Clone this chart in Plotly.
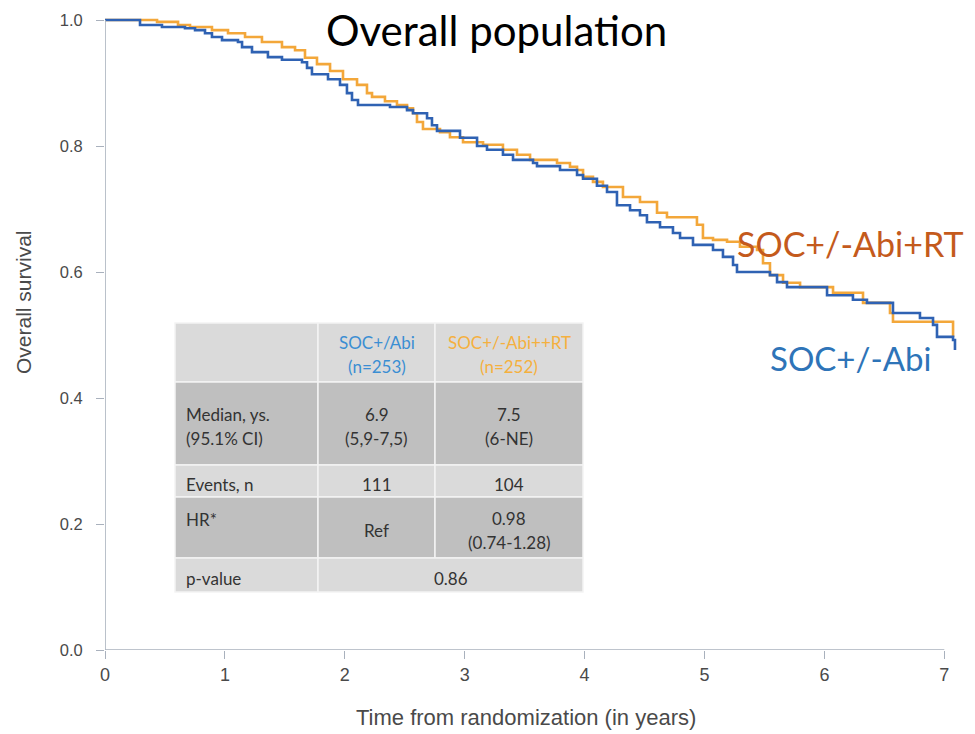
import plotly.graph_objects as go

# ---- Kaplan-Meier step data (time in years, survival probability) ----
abi_time = [0.000, 0.292, 0.475, 0.667, 0.751, 0.834, 0.892, 0.976, 1.109, 1.143, 1.226, 1.359, 1.476,
            1.643, 1.685, 1.726, 1.860, 1.960, 2.018, 2.060, 2.110, 2.377, 2.519, 2.569, 2.686, 2.727,
            2.769, 2.961, 3.103, 3.186, 3.319, 3.403, 3.570, 3.603, 3.795, 3.937, 3.987, 4.103, 4.187,
            4.270, 4.379, 4.462, 4.520, 4.629, 4.737, 4.796, 4.904, 5.071, 5.154, 5.238, 5.271, 5.546,
            5.605, 5.688, 6.022, 6.238, 6.355, 6.572, 6.797, 6.906, 6.939, 7.073, 7.089]
abi_surv = [1.000, 0.992, 0.989, 0.987, 0.984, 0.979, 0.973, 0.968, 0.965, 0.957, 0.949, 0.941, 0.937,
            0.933, 0.924, 0.914, 0.906, 0.897, 0.884, 0.873, 0.865, 0.862, 0.857, 0.852, 0.844, 0.833,
            0.824, 0.813, 0.800, 0.794, 0.786, 0.778, 0.773, 0.768, 0.762, 0.754, 0.748, 0.737, 0.727,
            0.706, 0.698, 0.690, 0.679, 0.671, 0.662, 0.654, 0.643, 0.635, 0.624, 0.611, 0.600, 0.595,
            0.584, 0.576, 0.563, 0.556, 0.551, 0.535, 0.527, 0.516, 0.497, 0.492, 0.476]

rt_time = [0.000, 0.434, 0.609, 0.709, 0.892, 1.026, 1.168, 1.309, 1.476, 1.585, 1.668, 1.768, 1.877,
           1.985, 2.102, 2.185, 2.227, 2.335, 2.435, 2.519, 2.569, 2.602, 2.652, 2.794, 2.877, 2.986,
           3.153, 3.319, 3.436, 3.545, 3.770, 3.878, 3.937, 3.987, 4.070, 4.153, 4.320, 4.462, 4.604,
           4.687, 4.937, 4.987, 5.071, 5.188, 5.296, 5.438, 5.488, 5.546, 5.655, 5.797, 6.072, 6.322,
           6.547, 6.572, 7.073]
rt_surv = [1.000, 0.997, 0.992, 0.989, 0.984, 0.979, 0.973, 0.965, 0.957, 0.952, 0.940, 0.930, 0.919,
           0.906, 0.897, 0.884, 0.878, 0.871, 0.865, 0.860, 0.852, 0.838, 0.827, 0.822, 0.814, 0.806,
           0.802, 0.794, 0.786, 0.778, 0.773, 0.767, 0.762, 0.751, 0.743, 0.735, 0.719, 0.711, 0.694,
           0.687, 0.675, 0.654, 0.651, 0.648, 0.640, 0.635, 0.614, 0.595, 0.583, 0.576, 0.567, 0.551,
           0.535, 0.521, 0.497]

x_ticks = [0, 1, 2, 3, 4, 5, 6, 7]
y_ticks = [0.0, 0.2, 0.4, 0.6, 0.8, 1.0]

# ---- summary table contents ----
table_header = ["", "SOC+/Abi<br>(n=253)", "SOC+/-Abi++RT<br>(n=252)"]
row_labels = ["Median, ys.<br>(95.1% CI)", "Events, n", "HR*", "p-value"]
abi_cells = ["6.9<br>(5,9-7,5)", "111", "Ref", "0.86"]
rt_cells = ["7.5<br>(6-NE)", "104", "0.98<br>(0.74-1.28)", None]

# ---- page geometry ----
W, H = 975, 734
L, R, T, B = 105, 16, 16, 84
PW, PH = W - L - R, H - T - B
PX_PER_YEAR = 119.9
PX_PER_UNIT = 630.0
X_MAX = PW / PX_PER_YEAR
Y_MAX = PH / PX_PER_UNIT

BLUE = "#2f62b3"
ORANGE = "#f3a73a"
AXIS = "#a9b1bd"
TXT = "#4a4a4a"
SANS = "Liberation Sans, Arial, sans-serif"
HUMANIST = "Lato, Carlito, sans-serif"


def px(x):
    return (x - L) / PW


def py(y):
    return (H - B - y) / PH


fig = go.Figure()
fig.add_trace(go.Scatter(x=rt_time, y=rt_surv, mode="lines", line=dict(color=ORANGE, width=2.6, shape="hv"),
                         name="SOC+/-Abi+RT", hoverinfo="skip"))
fig.add_trace(go.Scatter(x=abi_time, y=abi_surv, mode="lines", line=dict(color=BLUE, width=2.6, shape="hv"),
                         name="SOC+/-Abi", hoverinfo="skip"))

shapes = [
    dict(type="line", xref="x", yref="y", x0=0, x1=7, y0=0, y1=0, line=dict(color=AXIS, width=1.6)),
    dict(type="line", xref="x", yref="y", x0=0, x1=0, y0=0, y1=1, line=dict(color=AXIS, width=1.6)),
]
annotations = []

# ---- table drawn as cells ----
row_edges = [323, 382, 465, 497, 558, 592]
col_edges = [175, 318, 435, 583]
LIGHT, DARK = "#dadada", "#bfbfbf"
row_fill = [LIGHT, DARK, LIGHT, DARK, LIGHT]
cell_font = dict(family=HUMANIST, size=17, color="#333333")

for r in range(5):
    y0, y1 = row_edges[r], row_edges[r + 1]
    if r == 4:
        spans = [(col_edges[0], col_edges[1]), (col_edges[1], col_edges[3])]
    else:
        spans = [(col_edges[c], col_edges[c + 1]) for c in range(3)]
    for (x0, x1) in spans:
        shapes.append(dict(type="rect", xref="paper", yref="paper", x0=px(x0), x1=px(x1), y0=py(y1), y1=py(y0),
                           fillcolor=row_fill[r], line=dict(color="#f4f4f4", width=1.5), layer="above"))


def cell_text(text, xpix, ycen, color="#333333", anchor="center"):
    lines = text.split("<br>")
    gap = 24.5
    start = ycen - gap * (len(lines) - 1) / 2
    for i, ln in enumerate(lines):
        annotations.append(dict(xref="paper", yref="paper", x=px(xpix), y=py(start + i * gap), text=ln,
                                showarrow=False, xanchor=anchor, yanchor="middle",
                                font=dict(cell_font, color=color)))


col_c = [(col_edges[1] + col_edges[2]) / 2, (col_edges[2] + col_edges[3]) / 2]
hdr_y = (row_edges[0] + row_edges[1]) / 2 + 2
cell_text(table_header[1], col_c[0], hdr_y, color="#3b8ed3")
cell_text(table_header[2], col_c[1], hdr_y, color="#f5b03e")

for r, lab in enumerate(row_labels):
    y0, y1 = row_edges[r + 1], row_edges[r + 2]
    yc = (y0 + y1) / 2 + 3
    if lab == "HR*":
        cell_text(lab, 184, y0 + 22, anchor="left")
    else:
        cell_text(lab, 184, yc, anchor="left")
    if rt_cells[r] is None:
        cell_text(abi_cells[r], (col_edges[1] + col_edges[3]) / 2, yc)
    else:
        cell_text(abi_cells[r], col_c[0], yc)
        cell_text(rt_cells[r], col_c[1], yc)

# ---- titles and curve labels ----
annotations += [
    dict(xref="paper", yref="paper", x=px(496), y=py(30), text="Overall population", showarrow=False,
         font=dict(family=HUMANIST, size=42, color="#000000"), xanchor="center", yanchor="middle"),
    dict(xref="paper", yref="paper", x=px(850), y=py(243), text="SOC+/-Abi+RT", showarrow=False,
         font=dict(family=HUMANIST, size=34, color="#c45a1c"), xanchor="center", yanchor="middle"),
    dict(xref="paper", yref="paper", x=px(850), y=py(358), text="SOC+/-Abi", showarrow=False,
         font=dict(family=HUMANIST, size=33, color="#2e74b8"), xanchor="center", yanchor="middle"),
    dict(xref="paper", yref="paper", x=px(526), y=py(717), text="Time from randomization (in years)", showarrow=False,
         font=dict(family=SANS, size=22, color=TXT), xanchor="center", yanchor="middle"),
    dict(xref="paper", yref="paper", x=px(23), y=py(302), text="Overall survival", showarrow=False, textangle=-90,
         font=dict(family=SANS, size=21, color=TXT), xanchor="center", yanchor="middle"),
]

fig.update_layout(
    width=W, height=H,
    margin=dict(l=L, r=R, t=T, b=B),
    paper_bgcolor="white", plot_bgcolor="white",
    showlegend=False,
    shapes=shapes, annotations=annotations,
    xaxis=dict(range=[0, X_MAX], tickvals=x_ticks, ticktext=[str(v) for v in x_ticks], showgrid=False,
               zeroline=False, showline=False, ticks="outside", ticklen=8, tickwidth=1.4, tickcolor=AXIS,
               tickfont=dict(family=SANS, size=18, color=TXT)),
    yaxis=dict(range=[0, Y_MAX], tickvals=y_ticks, tickformat=".1f", showgrid=False, zeroline=False,
               showline=False, ticks="outside", ticklen=8, tickwidth=1.4, tickcolor=AXIS, ticklabelstandoff=10,
               tickfont=dict(family=SANS, size=16.5, color=TXT)),
)

fig.write_html("out.html")
